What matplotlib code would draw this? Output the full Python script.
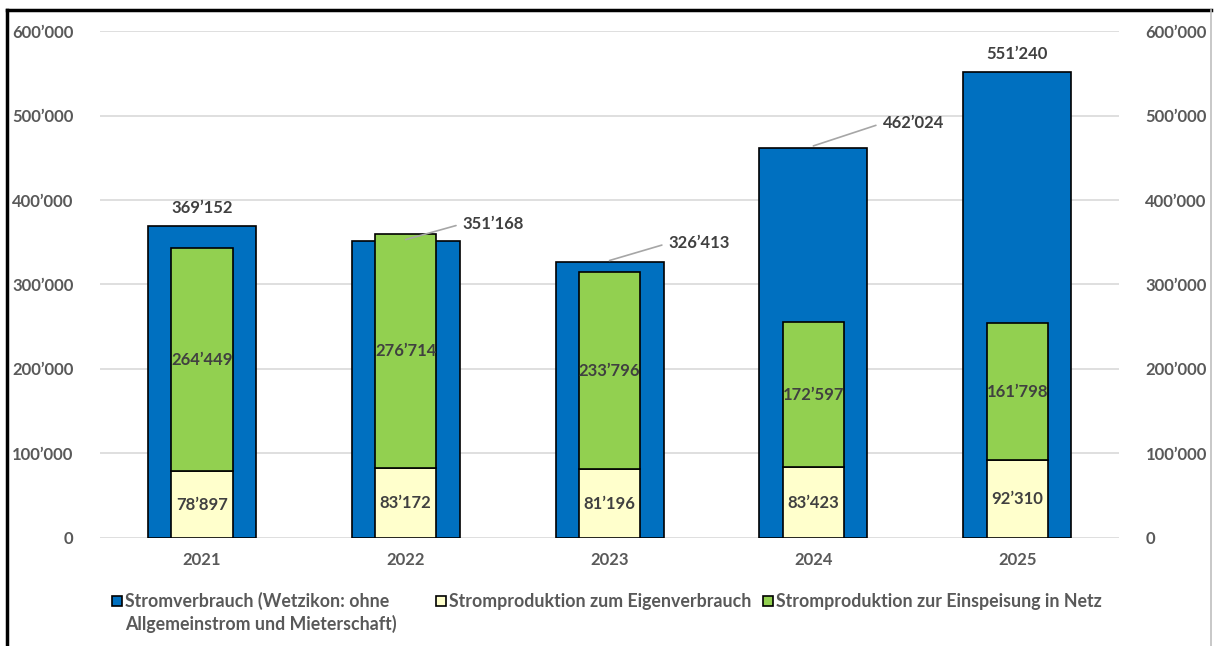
import numpy as np
import matplotlib.pyplot as plt
from matplotlib.patches import Rectangle
from matplotlib.lines import Line2D

plt.rcParams['font.family'] = ['Lato', 'DejaVu Sans']
plt.rcParams['font.weight'] = 'bold'

years = ['2021', '2022', '2023', '2024', '2025']
verbrauch = [369152, 351168, 326413, 462024, 551240]
eigen = [78897, 83172, 81196, 83423, 92310]
einspeisung = [264449, 276714, 233796, 172597, 161798]

legend_labels = ['Stromverbrauch (Wetzikon: ohne\nAllgemeinstrom und Mieterschaft)',
                 'Stromproduktion zum Eigenverbrauch',
                 'Stromproduktion zur Einspeisung in Netz']

c_blue = '#0070C0'
c_yellow = '#FFFFCC'
c_green = '#92D050'
c_text = '#404040'
c_tick = '#595959'


def fmt(v):
    return f'{v:,}'.replace(',', '\u2019')


fig = plt.figure(figsize=(12.14, 6.46), dpi=100)
ax = fig.add_axes([0.0824, 0.1672, 0.8394, 0.7848])
x = np.arange(len(years))

ax.bar(x, verbrauch, width=0.53, color=c_blue, edgecolor='black', linewidth=1.2, zorder=2)
ax.bar(x, eigen, width=0.30, color=c_yellow, edgecolor='black', linewidth=1.2, zorder=3)
ax.bar(x, einspeisung, width=0.30, bottom=eigen, color=c_green, edgecolor='black', linewidth=1.2, zorder=3)

ax.set_xlim(-0.5, 4.5)
ax.set_ylim(0, 600000)
ax.set_yticks(np.arange(0, 600001, 100000))
ax.yaxis.set_major_formatter(plt.FuncFormatter(lambda v, p: fmt(int(v))))
ax.set_xticks(x)
ax.set_xticklabels(years)
ax.tick_params(axis='both', length=0, labelsize=12, labelcolor=c_tick)
ax.tick_params(axis='y', pad=19)
ax.tick_params(axis='x', pad=10)
ax.grid(axis='y', color='#d9d9d9', linewidth=1.2, zorder=0)
ax.set_axisbelow(True)
for s in ax.spines.values():
    s.set_visible(False)

ax2 = ax.twinx()
ax2.set_ylim(ax.get_ylim())
ax2.set_yticks(ax.get_yticks())
ax2.yaxis.set_major_formatter(plt.FuncFormatter(lambda v, p: fmt(int(v))))
ax2.tick_params(axis='y', length=0, labelsize=12, labelcolor=c_tick, pad=19)
for s in ax2.spines.values():
    s.set_visible(False)

# inner labels
for i in range(len(years)):
    ax.text(x[i], eigen[i] / 2, fmt(eigen[i]), ha='center', va='center',
            fontsize=12, color=c_text, zorder=5)
    ax.text(x[i], eigen[i] + einspeisung[i] / 2, fmt(einspeisung[i]), ha='center', va='center',
            fontsize=12, color=c_text, zorder=5)

# labels on top of blue bars
callout = {1: (0.28, 372000), 2: (0.29, 349000), 3: (0.34, 491000)}
for i in range(len(years)):
    if i in callout:
        dx, ty = callout[i]
        ax.annotate(fmt(verbrauch[i]), xy=(x[i], verbrauch[i] + 2000), xytext=(x[i] + dx, ty),
                    ha='left', va='center', fontsize=12, color=c_text, zorder=6,
                    arrowprops=dict(arrowstyle='-', color='#a6a6a6', lw=1.2,
                                    relpos=(0, 0.5), shrinkA=3, shrinkB=0))
    else:
        ax.text(x[i], verbrauch[i] + 12000, fmt(verbrauch[i]), ha='center', va='bottom',
                fontsize=12, color=c_text)

# legend
hx = [112, 436, 763]
colors = [c_blue, c_yellow, c_green]
W, H = 1214, 646
for k in range(3):
    fig.patches.append(Rectangle((hx[k] / W, (H - 606) / H), 10 / W, 10 / H, transform=fig.transFigure,
                                 facecolor=colors[k], edgecolor='black', linewidth=1.2))
    lines = legend_labels[k].split('\n')
    for j, ln in enumerate(lines):
        fig.text((hx[k] + 13) / W, (H - 601 - 23 * j) / H, ln, ha='left', va='center',
                 fontsize=12.8, color=c_tick)

# frame
fig.add_artist(Line2D([7 / W, 7 / W], [0, 1 - 10 / H], color='black', lw=2.5))
fig.add_artist(Line2D([7 / W, 1211 / W], [1 - 10 / H, 1 - 10 / H], color='black', lw=2.5))
fig.add_artist(Line2D([1211 / W, 1211 / W], [0, 1 - 10 / H], color='#bfbfbf', lw=1.2))

fig.savefig('out.png', dpi=100)
